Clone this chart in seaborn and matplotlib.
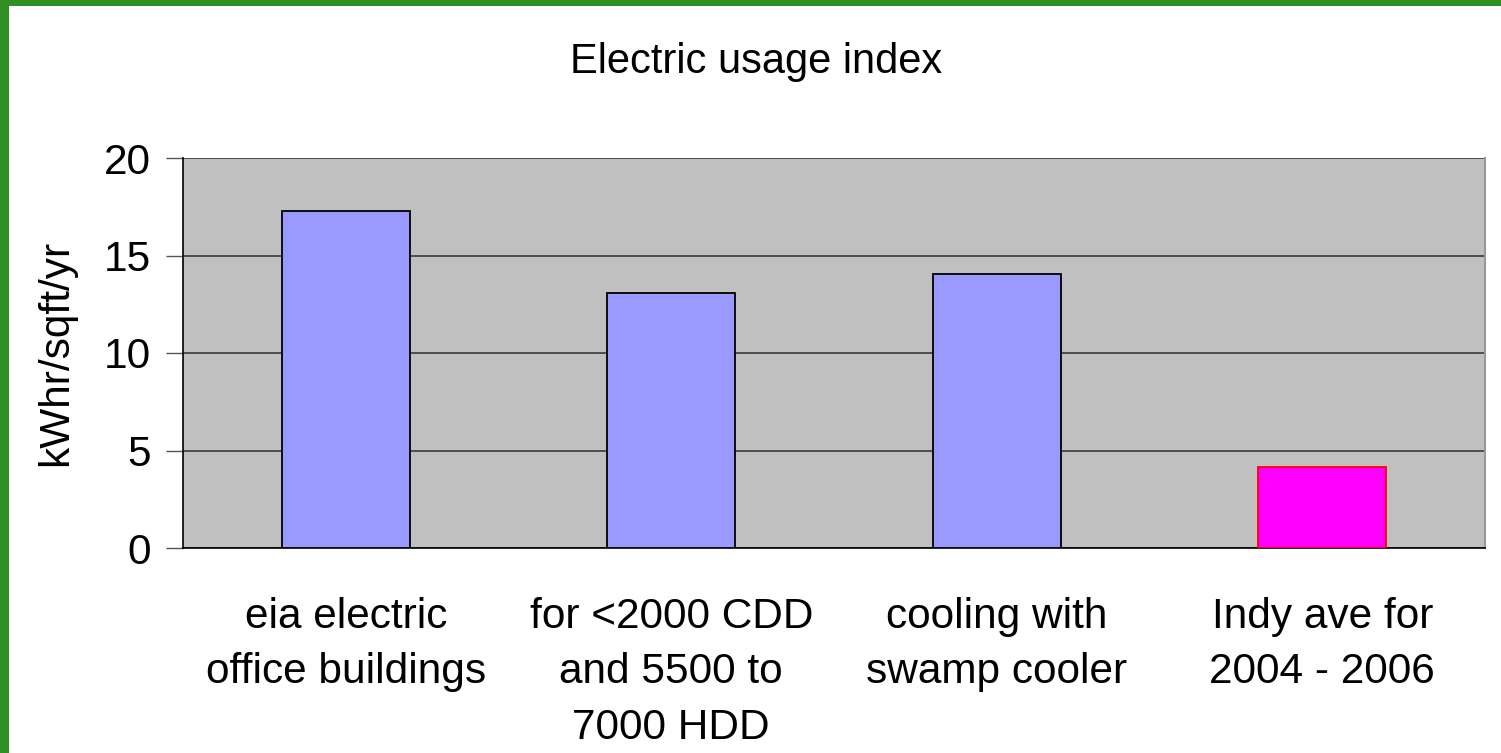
import matplotlib
matplotlib.use("Agg")
import matplotlib.pyplot as plt
import seaborn as sns
import pandas as pd
from matplotlib.patches import Rectangle

categories = ["eia electric\noffice buildings",
              "for <2000 CDD\nand 5500 to\n7000 HDD",
              "cooling with\nswamp cooler",
              "Indy ave for\n2004 - 2006"]
values = [17.3, 13.1, 14.05, 4.15]
bar_colors = ["#9999FF", "#9999FF", "#9999FF", "#FF00FF"]
edge_colors = ["#000000", "#000000", "#000000", "#FF0000"]
yticks = [0, 5, 10, 15, 20]
title = "Electric usage index"
ylabel = "kWhr/sqft/yr"

sns.set_style("white")
plt.rcParams["font.family"] = ["Liberation Sans", "DejaVu Sans"]
plt.rcParams["text.color"] = "black"
plt.rcParams["axes.labelcolor"] = "black"
plt.rcParams["xtick.labelcolor"] = "black"
plt.rcParams["ytick.labelcolor"] = "black"

fig = plt.figure(figsize=(15.01, 7.53), dpi=100)
fig.patch.set_facecolor("#2F8F25")
fig.patches.append(Rectangle((9 / 1501, 0), 1 - 9 / 1501, 1 - 6 / 753,
                             transform=fig.transFigure, facecolor="white",
                             edgecolor="none", zorder=-10))
ax = fig.add_axes([183 / 1501, 1 - 548 / 753, (1485 - 183) / 1501, (548 - 158) / 753])
ax.set_facecolor("#C0C0C0")

df = pd.DataFrame({"cat": categories, "val": values})
sns.barplot(data=df, x="cat", y="val", hue="cat", palette=bar_colors,
            saturation=1, dodge=False, legend=False, width=0.393, ax=ax, zorder=3)
for p, ec in zip(ax.patches, edge_colors):
    p.set_edgecolor(ec)
    p.set_linewidth(1.3)

ax.set_xlim(-0.5, len(categories) - 0.5)
ax.set_ylim(0, 20)
ax.set_yticks(yticks)
ax.yaxis.grid(True, color="#3a3a3a", linewidth=1.2, zorder=1)
ax.set_axisbelow(True)

ax.set_xticks(range(len(categories)))
ax.set_xticklabels(categories, fontsize=30.5, linespacing=1.5)
ax.set_xticks([i - 0.5 for i in range(len(categories) + 1)], minor=True)
ax.tick_params(axis="x", which="major", length=0, pad=35)
ax.tick_params(axis="x", which="minor", length=12, color="#555555", width=1, direction="out")
ax.tick_params(axis="y", length=12, color="#555555", width=1, direction="out", labelsize=30.5, pad=11, left=True)

for s in ["left", "bottom"]:
    ax.spines[s].set_color("#000000")
    ax.spines[s].set_linewidth(1.2)
ax.spines["right"].set_color("#999999")
ax.spines["right"].set_linewidth(1.5)
ax.spines["top"].set_visible(False)

ax.set_xlabel("")
ax.set_ylabel(ylabel, fontsize=30.5, labelpad=20)
fig.text(756 / 1501, 1 - 62 / 753, title, fontsize=30, ha="center", va="center")

fig.savefig("out.png", dpi=100)
